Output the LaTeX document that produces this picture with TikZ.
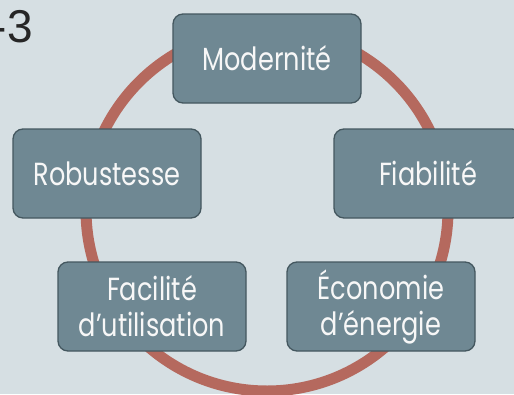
\documentclass[tikz,border=0pt]{standalone}
\usepackage{fontspec}
\newfontfamily\boxfont[FakeStretch=0.8]{Poppins}
\newfontfamily\numfont{Liberation Sans}
\definecolor{bg}{HTML}{D6DFE3}
\definecolor{boxfill}{HTML}{6F8893}
\definecolor{boxline}{HTML}{44575F}
\definecolor{ringc}{HTML}{B5695E}
\definecolor{txt}{HTML}{F7F7F7}
\begin{document}
\begin{tikzpicture}[x=1pt,y=-1pt,
  box/.style={draw=boxline, line width=1.3pt, fill=boxfill, rounded corners=10pt,
    minimum width=188pt, minimum height=89pt, inner sep=0pt, align=center,
    text=txt, font=\boxfont\fontsize{32}{36}\selectfont},
  ring/.style={draw=ringc, line width=11pt}]
\fill[bg] (0,0) rectangle (514,394);
\useasboundingbox (0,0) rectangle (514,394);
\draw[ring] (267,210) circle[radius=181];
\node[box] (mod) at (267,58.5) {Modernité};
\node[box] (rob) at (107,173.5) {Robustesse};
\node[box] (fia) at (428,173.5) {Fiabilité};
\node[box] (fac) at (152,306.5) {Facilité\\d’utilisation};
\node[box] (eco) at (381,306.5) {Économie\\d’énergie};
\node[anchor=base east, inner sep=0pt, text=black!85, font=\numfont\fontsize{46}{50}\selectfont] (num) at (33,42) {-3};
\end{tikzpicture}
\end{document}
